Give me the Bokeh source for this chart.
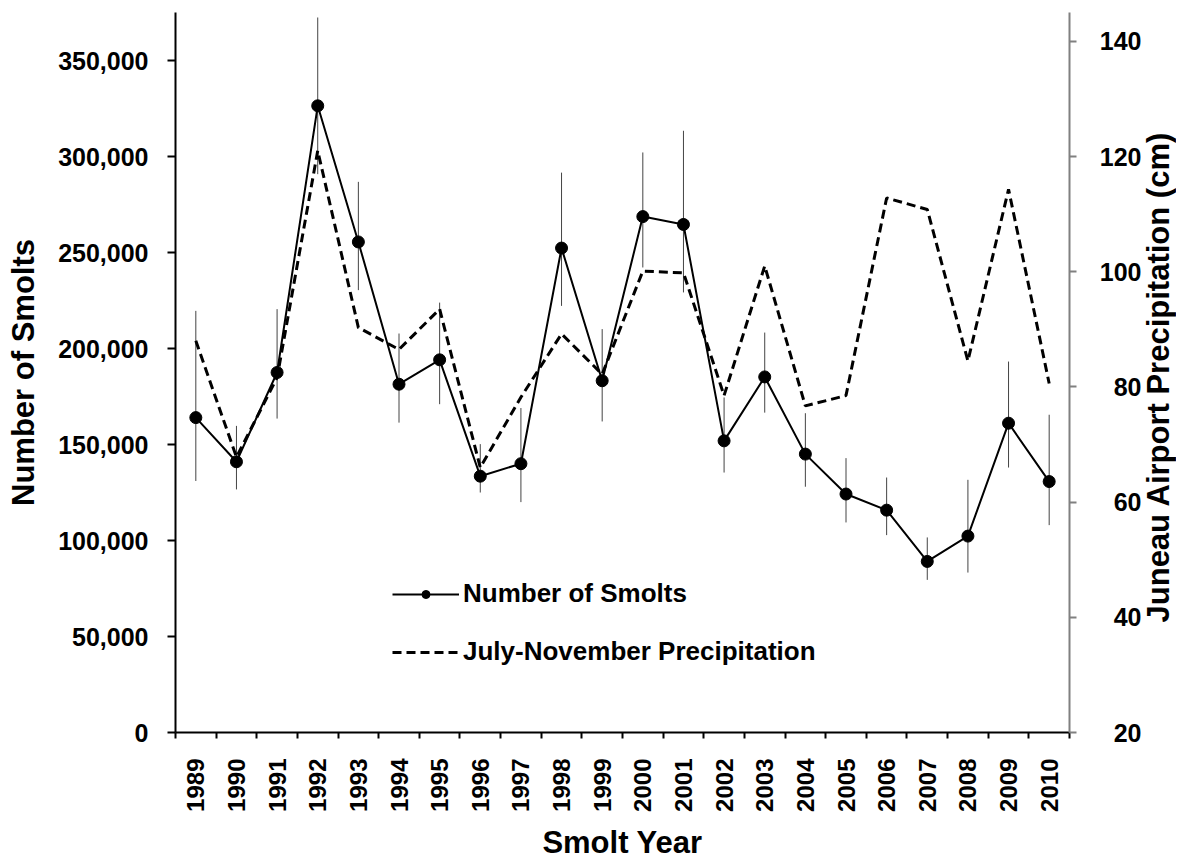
import math
from bokeh.plotting import figure
from bokeh.layouts import row
from bokeh.models import (Range1d, LinearAxis, FixedTicker, NumeralTickFormatter,
                          CustomJSTickFormatter, Legend, LegendItem, ColumnDataSource)
from bokeh.core.properties import value
from bokeh.embed import file_html
from bokeh.resources import INLINE

# ---------------- data ----------------
years = list(range(1989, 2011))
smolts = [164000, 141000, 187500, 326400, 255500, 181400, 194100, 133500, 140000, 252300, 183200,
          268700, 264600, 151900, 185200, 145000, 124200, 115800, 89100, 102300, 161100, 130700]
smolts_lower = [131000, 126600, 163500, 290800, 230400, 161400, 171000, 125000, 120000, 222200, 162000,
                242200, 229200, 135400, 166600, 128000, 109400, 102800, 79500, 83300, 138000, 108000]
smolts_upper = [219600, 159700, 220500, 372400, 286800, 207800, 223900, 150200, 169000, 291600, 210100,
                302100, 313400, 174500, 208300, 166300, 142900, 132800, 101600, 131600, 193200, 165500]
precip = [88.0, 67.8, 81.6, 121.0, 90.3, 86.5, 93.5, 66.0, 78.2, 89.2, 82.2,
          100.1, 99.8, 78.5, 101.0, 76.7, 78.5, 112.8, 110.8, 84.5, 114.3, 80.6]
left_ticks = [0, 50000, 100000, 150000, 200000, 250000, 300000, 350000]
right_ticks = [20, 40, 60, 80, 100, 120, 140]
right_title = "Juneau Airport Precipitation (cm)"

FONT = "Liberation Sans"

# ---------------- layout geometry (pixels) ----------------
H = 863
TOTAL_W = 1176
B_LEFT, B_TOP, B_BOTTOM = 175, 12, 131
P_W = 1081                      # main figure width (frame right edge at 1069)
B_RIGHT = 12
P_MIN, P_MAX = 20, 145          # precipitation axis range

src = ColumnDataSource(dict(year=years, smolts=smolts, lower=smolts_lower,
                            upper=smolts_upper, precip=precip))

p = figure(width=P_W, height=H, output_backend="svg", toolbar_location=None,
           x_range=Range1d(years[0] - 0.5, years[-1] + 0.5), y_range=Range1d(0, 375000),
           min_border_left=B_LEFT, min_border_right=B_RIGHT, min_border_top=B_TOP,
           min_border_bottom=B_BOTTOM)
p.extra_y_ranges = {"precip": Range1d(P_MIN, P_MAX)}
p.grid.visible = False
p.outline_line_color = None

# ---------------- glyphs ----------------
p.segment(x0="year", y0="lower", x1="year", y1="upper", source=src,
          line_color="#444444", line_width=1)
pr = p.line(x="year", y="precip", source=src, y_range_name="precip",
            line_color="black", line_width=3, line_dash="9 5")
ln = p.line(x="year", y="smolts", source=src, line_color="black", line_width=2)
sc = p.scatter(x="year", y="smolts", source=src, size=12, marker="circle",
               fill_color="black", line_color="black")

# ---------------- axes ----------------
xa = p.xaxis[0]
xa.ticker = FixedTicker(ticks=years, minor_ticks=[y - 0.5 for y in years] + [years[-1] + 0.5])
xa.major_tick_out = 0
xa.major_tick_in = 0
xa.minor_tick_out = 6
xa.minor_tick_in = 0
xa.minor_tick_line_color = "black"
xa.minor_tick_line_width = 2
xa.axis_line_color = "black"
xa.axis_line_width = 2
xa.major_label_orientation = math.pi / 2
xa.major_label_standoff = 20
xa.major_label_text_font = FONT
xa.major_label_text_font_style = "bold"
xa.major_label_text_font_size = "24px"
xa.major_label_text_color = "black"
xa.axis_label = "Smolt Year"
xa.axis_label_standoff = 10
xa.axis_label_text_font = FONT
xa.axis_label_text_font_style = "bold"
xa.axis_label_text_font_size = "31px"
xa.axis_label_text_color = "black"

ya = p.yaxis[0]
ya.ticker = FixedTicker(ticks=left_ticks)
ya.formatter = NumeralTickFormatter(format="0,0")
ya.major_tick_out = 8
ya.major_tick_in = 0
ya.minor_tick_out = 0
ya.minor_tick_in = 0
ya.major_tick_line_width = 2
ya.major_tick_line_color = "black"
ya.axis_line_width = 2
ya.axis_line_color = "black"
ya.major_label_standoff = 19
ya.major_label_text_font = FONT
ya.major_label_text_font_style = "bold"
ya.major_label_text_font_size = "25px"
ya.major_label_text_color = "black"
ya.axis_label = "Number of Smolts"
ya.axis_label_standoff = 14
ya.axis_label_text_font = FONT
ya.axis_label_text_font_style = "bold"
ya.axis_label_text_font_size = "31px"
ya.axis_label_text_color = "black"

# right axis: line and tick marks; its numbers are drawn by the side panel's axis
ra = LinearAxis(y_range_name="precip", ticker=FixedTicker(ticks=right_ticks),
                formatter=CustomJSTickFormatter(code="return ''"))
ra.major_tick_out = 7
ra.major_tick_in = 0
ra.minor_tick_out = 0
ra.minor_tick_in = 0
ra.major_tick_line_width = 2
ra.major_tick_line_color = "#808080"
ra.axis_line_width = 2
ra.axis_line_color = "#808080"
ra.major_label_standoff = 0
p.add_layout(ra, "right")

# ---------------- legend ----------------
legend = Legend(items=[LegendItem(label="Number of Smolts", renderers=[ln, sc]),
                       LegendItem(label="July-November Precipitation", renderers=[pr])],
                location=(217, 65))
legend.border_line_color = None
legend.background_fill_alpha = 0
legend.padding = 0
legend.margin = 0
legend.spacing = 27
legend.glyph_width = 67
legend.glyph_height = 20
legend.label_height = 30
legend.label_standoff = 4
legend.label_text_font = FONT
legend.label_text_font_style = "bold"
legend.label_text_font_size = "26px"
legend.label_text_color = "black"
p.add_layout(legend)

# ---------------- right side panel: tick numbers (left axis of panel) + title ----------------
# The side panel's frame is aligned with the main frame, so it shares the precipitation scale.
T_W = TOTAL_W - P_W
T_LEFT = 1136 - P_W
t = figure(width=T_W, height=H, output_backend="svg", toolbar_location=None,
           x_range=Range1d(1136, TOTAL_W), y_range=Range1d(P_MIN, P_MAX),
           min_border_left=T_LEFT, min_border_right=0, min_border_top=B_TOP,
           min_border_bottom=B_BOTTOM)
t.grid.visible = False
t.outline_line_color = None
t.xaxis.visible = False
ta = t.yaxis[0]
ta.ticker = FixedTicker(ticks=right_ticks)
ta.axis_line_color = None
ta.major_tick_line_color = None
ta.minor_tick_line_color = None
ta.major_tick_out = 0
ta.major_tick_in = 0
ta.minor_tick_out = 0
ta.minor_tick_in = 0
ta.major_label_standoff = -5
ta.major_label_text_font = FONT
ta.major_label_text_font_style = "bold"
ta.major_label_text_font_size = "25px"
ta.major_label_text_color = "black"

t.text(x=[1158], y=[39.1], text=[right_title], angle=math.pi / 2,
       text_align="left", text_baseline="middle",
       text_font=value(FONT), text_font_style="bold", text_font_size="31px",
       text_color="black")

layout = row(p, t)
open("out.html", "w").write(file_html(layout, INLINE))
